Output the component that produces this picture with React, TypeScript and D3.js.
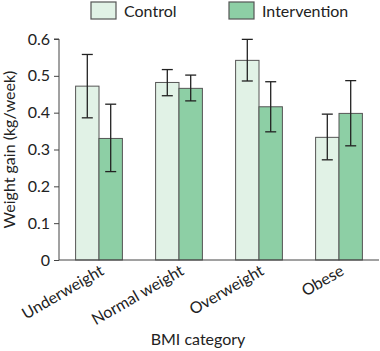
import React, { useEffect, useRef } from "react";
import * as d3 from "d3";

const categories = ["Underweight", "Normal weight", "Overweight", "Obese"];
const seriesNames = ["Control", "Intervention"];
const controlValues = [0.472, 0.482, 0.542, 0.333];
const controlLow = [0.386, 0.446, 0.486, 0.272];
const controlHigh = [0.558, 0.517, 0.599, 0.396];
const interventionValues = [0.33, 0.466, 0.416, 0.398];
const interventionLow = [0.24, 0.432, 0.348, 0.31];
const interventionHigh = [0.423, 0.502, 0.484, 0.487];
const yTicks = [0, 0.1, 0.2, 0.3, 0.4, 0.5, 0.6];

const colors = ["#e1f2e6", "#8dcfa5"];
const font = "Lato, 'Noto Sans', sans-serif";

export default function App() {
  const ref = useRef<SVGSVGElement>(null);

  useEffect(() => {
    if (!ref.current) return;
    const svg = d3.select(ref.current);
    svg.selectAll("*").remove();

    const x = d3
      .scaleBand()
      .domain(categories)
      .range([59, 379])
      .paddingInner(0.415)
      .paddingOuter(0.2075);
    const x1 = d3
      .scaleBand()
      .domain(seriesNames)
      .range([0, x.bandwidth()]);
    const y = d3.scaleLinear().domain([0, 0.6]).range([260, 39]);

    const series = [
      { name: seriesNames[0], values: controlValues, low: controlLow, high: controlHigh },
      { name: seriesNames[1], values: interventionValues, low: interventionLow, high: interventionHigh },
    ];

    // bars
    series.forEach((s, si) => {
      const g = svg.append("g");
      categories.forEach((c, i) => {
        const bx = (x(c) as number) + (x1(s.name) as number);
        g.append("rect")
          .attr("x", bx)
          .attr("y", y(s.values[i]))
          .attr("width", x1.bandwidth())
          .attr("height", y(0) - y(s.values[i]))
          .attr("fill", colors[si])
          .attr("stroke", "#555")
          .attr("stroke-width", 1);
      });
    });

    // error bars
    series.forEach((s) => {
      categories.forEach((c, i) => {
        const cx = (x(c) as number) + (x1(s.name) as number) + x1.bandwidth() / 2;
        const g = svg.append("g").attr("stroke", "#222").attr("stroke-width", 1.3);
        g.append("line").attr("x1", cx).attr("x2", cx).attr("y1", y(s.low[i])).attr("y2", y(s.high[i]));
        g.append("line").attr("x1", cx - 5.5).attr("x2", cx + 5.5).attr("y1", y(s.high[i])).attr("y2", y(s.high[i]));
        g.append("line").attr("x1", cx - 5.5).attr("x2", cx + 5.5).attr("y1", y(s.low[i])).attr("y2", y(s.low[i]));
      });
    });

    // y axis
    const yAxis = svg
      .append("g")
      .attr("transform", "translate(59,0)")
      .call(
        d3
          .axisLeft(y)
          .tickValues(yTicks)
          .tickSize(5)
          .tickPadding(4)
          .tickFormat((d) => (d === 0 ? "0" : d3.format(".1f")(d as number)))
      );
    yAxis.select(".domain").attr("stroke", "#444").attr("d", `M-5,${y(0.6)}H0V${y(0)}`);
    yAxis.selectAll(".tick line").attr("stroke", "#444");
    yAxis
      .selectAll(".tick text")
      .attr("fill", "#222")
      .style("font-family", font)
      .style("font-size", "16px");

    // x axis
    const xAxis = svg
      .append("g")
      .attr("transform", `translate(0,${y(0)})`)
      .call(d3.axisBottom(x).tickSize(0).tickPadding(0));
    xAxis.select(".domain").attr("stroke", "#444").attr("d", `M59,0H379`);
    xAxis
      .selectAll(".tick text")
      .attr("fill", "#222")
      .attr("text-anchor", "end")
      .attr("dx", 0)
      .attr("dy", 0)
      .attr("transform", "translate(6,14) rotate(-30)")
      .style("font-family", font)
      .style("font-size", "16px");

    // axis titles
    svg
      .append("text")
      .attr("transform", `translate(15,${(y(0) + y(0.6)) / 2}) rotate(-90)`)
      .attr("text-anchor", "middle")
      .attr("fill", "#222")
      .style("font-family", font)
      .style("font-size", "16px")
      .text("Weight gain (kg/week)");

    svg
      .append("text")
      .attr("x", 198)
      .attr("y", 345)
      .attr("text-anchor", "middle")
      .attr("fill", "#222")
      .style("font-family", font)
      .style("font-size", "16px")
      .text("BMI category");

    // legend
    const legendX = [91, 229];
    seriesNames.forEach((n, i) => {
      const lg = svg.append("g").attr("transform", `translate(${legendX[i]},2)`);
      lg.append("rect")
        .attr("width", 25)
        .attr("height", 17)
        .attr("fill", colors[i])
        .attr("stroke", "#555")
        .attr("stroke-width", 1.2);
      lg.append("text")
        .attr("x", 33)
        .attr("y", 15)
        .attr("fill", "#222")
        .style("font-family", font)
        .style("font-size", "16px")
        .text(n);
    });
  }, []);

  return (
    <div style={{ position: "absolute", left: 0, top: 0 }}>
      <svg ref={ref} width={380} height={351} style={{ display: "block", background: "#fff" }} />
    </div>
  );
}
